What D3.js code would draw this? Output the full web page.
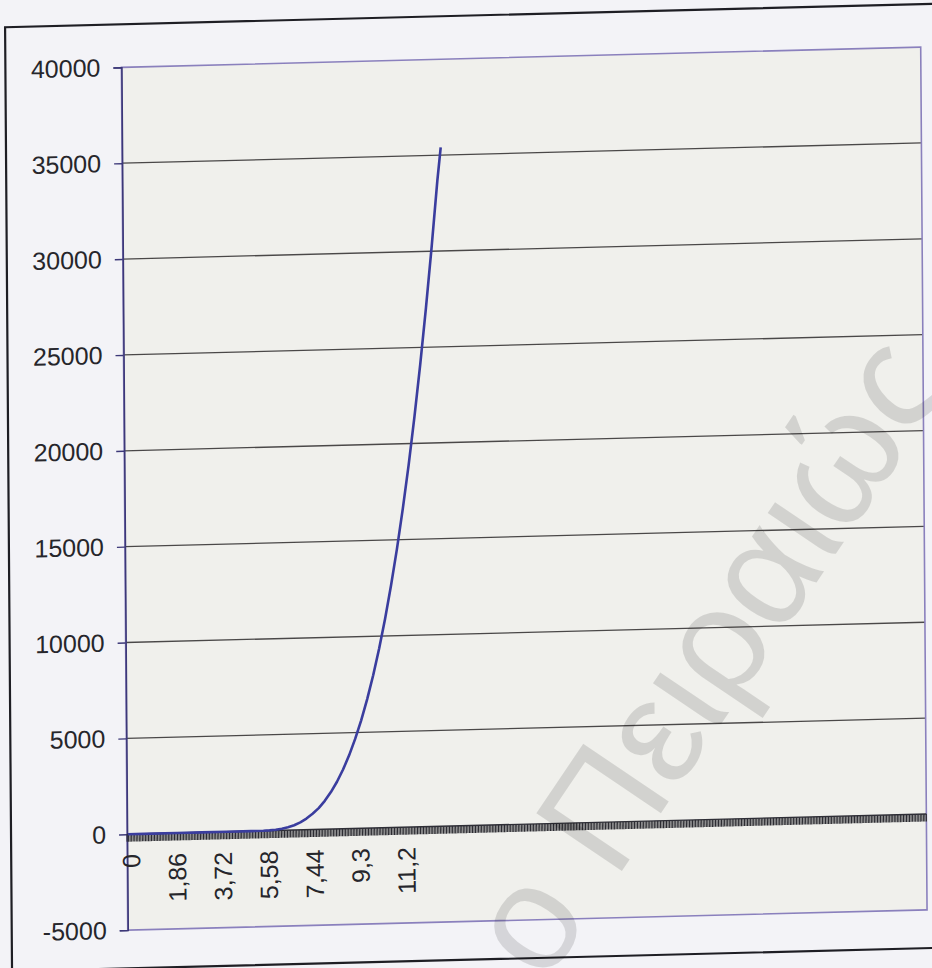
<!DOCTYPE html>
<html>
<head>
<meta charset="utf-8">
<script src="https://cdn.jsdelivr.net/npm/d3@7/dist/d3.min.js"></script>
<style>
  html, body { margin: 0; padding: 0; background: #f3f3f7; }
  svg { display: block; }
  text { font-family: "Liberation Sans", Arial, sans-serif; }
</style>
</head>
<body>
<svg id="chart" width="932" height="968"></svg>
<script>
// Category axis: evenly spaced x values, step 0.062, 523 slots on the axis
const categoryStep = 0.062;
const categorySlots = 523;

// Labelled category ticks (every 30th category)
const xTickValues = [0, 1.86, 3.72, 5.58, 7.44, 9.3, 11.16];
const xTickLabels = ["0", "1,86", "3,72", "5,58", "7,44", "9,3", "11,2"];

// Value axis
const yTickValues = [-5000, 0, 5000, 10000, 15000, 20000, 25000, 30000, 35000, 40000];

// Series: x value and y value
const seriesX = [0, 1, 2, 3, 4, 5, 5.5, 5.75, 6, 6.25, 6.5, 6.75, 7, 7.25, 7.5, 7.75,
  8, 8.25, 8.5, 8.75, 9, 9.25, 9.5, 9.75, 10, 10.25, 10.5, 10.75, 11, 11.25,
  11.5, 11.75, 12, 12.25, 12.5, 12.75, 12.896];
const seriesY = [0, 0, 0, 0, 0, 0, 5, 15, 40, 80, 150, 250, 390, 580, 820, 1110,
  1480, 1930, 2460, 3090, 3820, 4670, 5630, 6730, 7970, 9350, 10900, 12620, 14510, 16600,
  18880, 21380, 24100, 27050, 30240, 33680, 35400];

const W = 799.3, H = 862.75;

const svg = d3.select("#chart");
// the sheet sits slightly skewed on the page
const root = svg.append("g")
  .attr("transform", "matrix(1,-0.02533,0.00736,1,121.4,67.35)");

const x = d3.scaleLinear()
  .domain([-categoryStep / 2, categorySlots * categoryStep - categoryStep / 2])
  .range([0, W]);
const y = d3.scaleLinear().domain([-5000, 40000]).range([H, 0]);

// outer chart frame
root.append("rect")
  .attr("x", -116).attr("y", -43)
  .attr("width", W + 160).attr("height", 944)
  .attr("fill", "#f3f3f7")
  .attr("stroke", "#1e1e24").attr("stroke-width", 2.2);

// plot area
root.append("rect")
  .attr("x", 0).attr("y", 0).attr("width", W).attr("height", H)
  .attr("fill", "#f0f0ec");

// horizontal gridlines
root.append("g").selectAll("line")
  .data(yTickValues.filter(v => v > -5000 && v < 40000 && v !== 0))
  .join("line")
  .attr("x1", 0).attr("x2", W)
  .attr("y1", d => y(d)).attr("y2", d => y(d))
  .attr("stroke", "#4a4848").attr("stroke-width", 1.3);

// plot border
root.append("rect")
  .attr("x", 0).attr("y", 0).attr("width", W).attr("height", H)
  .attr("fill", "none").attr("stroke", "#8a80bd").attr("stroke-width", 1.6);

// value axis
const yAxis = d3.axisLeft(y).tickValues(yTickValues).tickSize(8).tickPadding(13)
  .tickFormat(d => String(d));
const yg = root.append("g").call(yAxis);
yg.select(".domain").attr("stroke", "#3c3878").attr("stroke-width", 1.6);
yg.selectAll(".tick line").attr("stroke", "#3c3878").attr("stroke-width", 1.4);
yg.selectAll(".tick text")
  .attr("font-size", 25).attr("fill", "#26262b")
  .attr("font-family", "'Liberation Sans', Arial, sans-serif");

// category axis at zero: line plus a tick for every category slot
const y0 = y(0);
const ticks = d3.range(categorySlots + 1).map(k => k * categoryStep - categoryStep / 2);
const xg = root.append("g");
xg.selectAll("line.cat")
  .data(ticks)
  .join("line")
  .attr("class", "cat")
  .attr("x1", d => x(d)).attr("x2", d => x(d))
  .attr("y1", y0).attr("y2", y0 + 7.5)
  .attr("stroke", "#2c2c32").attr("stroke-width", 1.1);
xg.append("line")
  .attr("x1", 0).attr("x2", W).attr("y1", y0).attr("y2", y0)
  .attr("stroke", "#2e2e36").attr("stroke-width", 1.4);

// category labels, rotated
xg.selectAll("text")
  .data(xTickValues)
  .join("text")
  .attr("transform", d => `translate(${x(d) + 3.5},${y0 + 20}) rotate(-90)`)
  .attr("text-anchor", "end")
  .attr("dy", "0.35em")
  .attr("font-size", 25)
  .attr("fill", "#26262b")
  .text((d, i) => xTickLabels[i]);

// series line
const line = d3.line().x(d => x(d[0])).y(d => y(d[1]));
root.append("path")
  .datum(seriesX.map((v, i) => [v, seriesY[i]]))
  .attr("d", line)
  .attr("fill", "none")
  .attr("stroke", "#3a3d9e")
  .attr("stroke-width", 2.6)
  .attr("stroke-linejoin", "round");

// library watermark across the page
svg.append("text")
  .attr("transform", "translate(545,985) rotate(-56)")
  .attr("font-size", 150)
  .attr("fill", "#000")
  .attr("fill-opacity", 0.12)
  .text("ο Πειραιώς");
</script>
</body>
</html>
